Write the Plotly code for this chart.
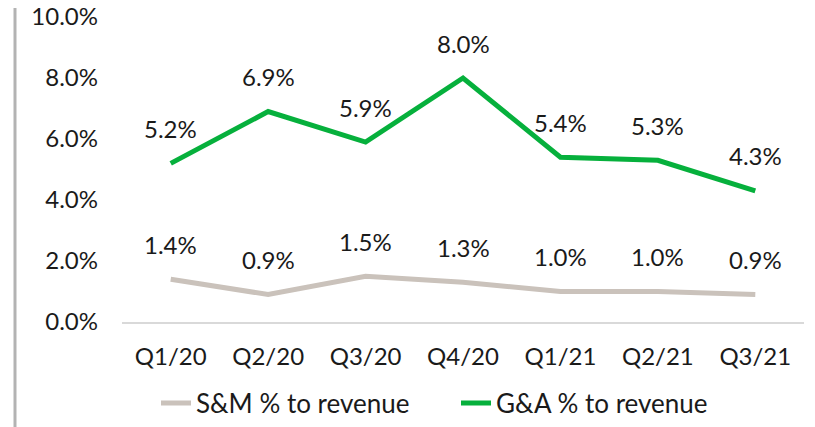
import plotly.graph_objects as go

quarters = ["Q1/20", "Q2/20", "Q3/20", "Q4/20", "Q1/21", "Q2/21", "Q3/21"]
sm_pct = [1.4, 0.9, 1.5, 1.3, 1.0, 1.0, 0.9]
ga_pct = [5.2, 6.9, 5.9, 8.0, 5.4, 5.3, 4.3]
y_ticks = [0, 2, 4, 6, 8, 10]

W, H = 815, 427
# the page body adds ~8px, so margins are set 8px short on left/top
M = dict(l=114, r=19, t=9, b=113)
FONT = "Lato, sans-serif"

fig = go.Figure()
fig.add_trace(go.Scatter(x=quarters, y=sm_pct, mode="lines", name="S&M % to revenue",
                         line=dict(color="#cac2bb", width=5)))
fig.add_trace(go.Scatter(x=quarters, y=ga_pct, mode="lines", name="G&A % to revenue",
                         line=dict(color="#06b03c", width=5)))

for series in (sm_pct, ga_pct):
    for q, v in zip(quarters, series):
        fig.add_annotation(x=q, y=v, text=f"{v:.1f}%", showarrow=False, yshift=35,
                           font=dict(size=24, color="#1a1a1a", family=FONT))

# grey vertical rule at the far left
pw = W - M["l"] - M["r"]
ph = H - M["t"] - M["b"]
fig.add_shape(type="line", xref="paper", yref="paper",
              x0=(7 - M["l"]) / pw, x1=(7 - M["l"]) / pw,
              y0=-M["b"] / ph, y1=1 + M["t"] / ph,
              line=dict(color="#b3b3b3", width=3))

fig.update_layout(
    width=W, height=H, margin=M,
    paper_bgcolor="white", plot_bgcolor="white",
    font=dict(family=FONT, size=24, color="#1a1a1a"),
    showlegend=True,
    legend=dict(orientation="h", xref="container", yref="container",
                x=148 / W, xanchor="left", y=1 - 395 / H, yanchor="middle",
                font=dict(size=26), entrywidth=255, entrywidthmode="pixels",
                tracegroupgap=0),
    xaxis=dict(range=[-0.5, 6.5], showgrid=False, showline=True,
               linecolor="#d9d9d9", linewidth=2, automargin=False,
               ticks="", ticklabelstandoff=12),
    yaxis=dict(range=[0, 10], tickvals=y_ticks,
               ticktext=[f"{t:.1f}%" for t in y_ticks], automargin=False,
               showgrid=False, zeroline=False, showline=False, ticks="",
               ticklabelstandoff=23, ticklabeloverflow="allow"),
)

fig.write_html("out.html")
